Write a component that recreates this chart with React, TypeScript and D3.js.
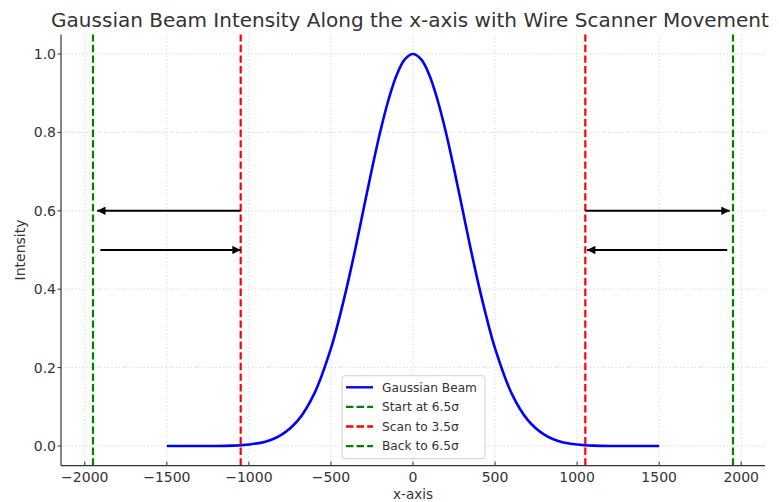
import React from "react";
import * as d3 from "d3";

// Beam profile samples (position, normalized intensity)
const beamX = [
  -1500, -1400, -1300, -1200, -1100, -1000, -900, -800, -700, -600, -500, -450, -400, -350, -300, -250,
  -200, -150, -100, -50, 0, 50, 100, 150, 200, 250, 300, 350, 400, 450, 500, 600, 700, 800, 900, 1000,
  1100, 1200, 1300, 1400, 1500,
];
const beamY = [
  0.0, 0.0, 0.0, 0.0, 0.001, 0.004, 0.011, 0.029, 0.066, 0.135, 0.249, 0.325, 0.411, 0.506, 0.607, 0.707,
  0.801, 0.882, 0.946, 0.986, 1.0, 0.986, 0.946, 0.882, 0.801, 0.707, 0.607, 0.506, 0.411, 0.325, 0.249,
  0.135, 0.066, 0.029, 0.011, 0.004, 0.001, 0.0, 0.0, 0.0, 0.0,
];

// Wire positions (vertical dashed markers)
const markerX = [-1950, -1050, 1050, 1950];
const markerColor = ["#008000", "#ff0000", "#ff0000", "#008000"];

// Wire movement arrows: [fromX, toX, y]
const arrowFrom = [-1050, -1905, 1050, 1915];
const arrowTo = [-1925, -1050, 1930, 1060];
const arrowY = [0.6, 0.5, 0.6, 0.5];

const xTicks = [-2000, -1500, -1000, -500, 0, 500, 1000, 1500, 2000];
const yTicks = [0.0, 0.2, 0.4, 0.6, 0.8, 1.0];

const legendLabels = ["Gaussian Beam", "Start at 6.5σ", "Scan to 3.5σ", "Back to 6.5σ"];
const legendColors = ["#0000ff", "#008000", "#ff0000", "#008000"];
const legendDashed = [false, true, true, true];

const W = 779;
const H = 502;
const margin = { left: 61, right: 765, top: 34.4, bottom: 465.6 };
const FONT = "DejaVu Sans, sans-serif";
const TEXT = "#333";

export default function App() {
  const x = d3.scaleLinear().domain([-2145, 2145]).range([margin.left, margin.right]);
  const y = d3.scaleLinear().domain([-0.05, 1.05]).range([margin.bottom, margin.top]);

  const pts: [number, number][] = beamX.map((v, i) => [v, beamY[i]]);
  const line = d3
    .line<[number, number]>()
    .x((d) => x(d[0]))
    .y((d) => y(d[1]))
    .curve(d3.curveCatmullRom.alpha(0.5));

  const lgX = 342;
  const lgY = 375.7;
  const rowH = 19.6;

  return (
    <svg
      width={W}
      height={H}
      viewBox={`0 0 ${W} ${H}`}
      style={{ position: "absolute", left: 0, top: 0, background: "#fff" }}
    >
      <defs>
        <marker
          id="ah"
          viewBox="0 0 10 10"
          refX="10"
          refY="5"
          markerWidth="5"
          markerHeight="4.2"
          markerUnits="strokeWidth"
          orient="auto"
        >
          <path d="M0,0 L10,5 L0,10 Z" fill="#000" />
        </marker>
      </defs>

      {/* grid */}
      <g stroke="#c8c8c8" strokeWidth={0.8} strokeDasharray="1.2,2.4">
        {xTicks.map((t) => (
          <line key={"gx" + t} x1={x(t)} x2={x(t)} y1={margin.top} y2={margin.bottom} />
        ))}
        {yTicks.map((t) => (
          <line key={"gy" + t} x1={margin.left} x2={margin.right} y1={y(t)} y2={y(t)} />
        ))}
      </g>

      {/* beam profile */}
      <path d={line(pts) ?? ""} fill="none" stroke="#0000ff" strokeWidth={2.6} />

      {/* wire markers */}
      {markerX.map((m, i) => (
        <line
          key={"m" + i}
          x1={x(m)}
          x2={x(m)}
          y1={margin.bottom}
          y2={margin.top}
          stroke={markerColor[i]}
          strokeWidth={2.2}
          strokeDasharray="7.4,3.2"
        />
      ))}

      {/* movement arrows */}
      {arrowFrom.map((f, i) => (
        <line
          key={"a" + i}
          x1={x(f)}
          x2={x(arrowTo[i])}
          y1={y(arrowY[i])}
          y2={y(arrowY[i])}
          stroke="#000"
          strokeWidth={2}
          markerEnd="url(#ah)"
        />
      ))}

      {/* spines */}
      <g stroke="#333" strokeWidth={1.2}>
        <line x1={margin.left} x2={margin.left} y1={margin.top} y2={margin.bottom} />
        <line x1={margin.left} x2={margin.right} y1={margin.bottom} y2={margin.bottom} />
      </g>

      {/* ticks */}
      <g fontFamily={FONT} fontSize={14} fill={TEXT}>
        {xTicks.map((t) => (
          <g key={"xt" + t}>
            <line x1={x(t)} x2={x(t)} y1={margin.bottom} y2={margin.bottom - 4} stroke="#333" strokeWidth={1} />
            <text x={x(t)} y={margin.bottom + 16.2} textAnchor="middle">
              {t < 0 ? "\u2212" + Math.abs(t) : String(t)}
            </text>
          </g>
        ))}
        {yTicks.map((t) => (
          <g key={"yt" + t}>
            <line x1={margin.left} x2={margin.left - 3.5} y1={y(t)} y2={y(t)} stroke="#333" strokeWidth={1} />
            <text x={margin.left - 5} y={y(t) + 5} textAnchor="end">
              {t.toFixed(1)}
            </text>
          </g>
        ))}
      </g>

      {/* axis labels */}
      <text x={x(0)} y={498.5} textAnchor="middle" fontFamily={FONT} fontSize={13.5} fill={TEXT}>
        x-axis
      </text>
      <text
        transform={`translate(25,${(margin.top + margin.bottom) / 2}) rotate(-90)`}
        textAnchor="middle"
        fontFamily={FONT}
        fontSize={14}
        fill={TEXT}
      >
        Intensity
      </text>

      {/* title */}
      <text x={410} y={27} textAnchor="middle" fontFamily={FONT} fontSize={20} fill={TEXT}>
        Gaussian Beam Intensity Along the x-axis with Wire Scanner Movement
      </text>

      {/* legend */}
      <rect
        x={lgX}
        y={lgY}
        width={143}
        height={83}
        rx={3}
        fill="#fff"
        fillOpacity={0.85}
        stroke="#d0d0d0"
        strokeWidth={1}
      />
      {legendLabels.map((lab, i) => {
        const ry = lgY + 11.6 + i * rowH;
        return (
          <g key={"lg" + i}>
            <line
              x1={lgX + 4}
              x2={lgX + 31}
              y1={ry}
              y2={ry}
              stroke={legendColors[i]}
              strokeWidth={2.4}
              strokeDasharray={legendDashed[i] ? "7.4,3.2" : undefined}
            />
            <text x={lgX + 40} y={ry + 4.3} fontFamily={FONT} fontSize={12.2} fill={TEXT}>
              {lab}
            </text>
          </g>
        );
      })}
    </svg>
  );
}
